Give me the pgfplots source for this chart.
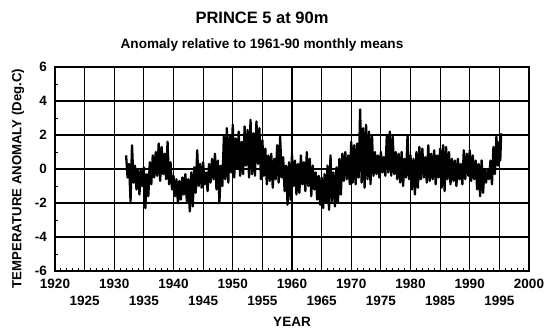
\documentclass[border=0pt]{standalone}
\usepackage{fontspec}
\setmainfont{Liberation Sans}
\usepackage{pgfplots}
\pgfplotsset{compat=1.18}
\begin{document}
\begin{tikzpicture}
\begin{axis}[
  name=ax,
  scale only axis,
  width=474pt, height=204pt,
  xmin=1920, xmax=2000, ymin=-6, ymax=6,
  xtick={1920,1930,1940,1950,1960,1970,1980,1990,2000},
  xticklabels={1920,1930,1940,1950,1960,1970,1980,1990,2000},
  extra x ticks={1925,1935,1945,1955,1965,1975,1985,1995},
  extra x tick labels={1925,1935,1945,1955,1965,1975,1985,1995},
  extra x tick style={grid=major, xticklabel style={yshift=-17pt}},
  ytick={-6,-4,-2,0,2,4,6},
  yticklabels={-6,-4,-2,0,2,4,6},
  minor x tick num=9,
  minor y tick num=1,
  tick pos=left,
  tick align=inside,
  major tick length=0pt,
  minor tick length=3.5pt,
  minor tick style={black, line width=0.9pt},
  grid=major,
  grid style={black, line width=1.1pt},
  axis line style={black, line width=1.6pt},
  xticklabel style={font=\fontsize{13.5}{14}\selectfont\bfseries, anchor=center, yshift=-13pt, inner sep=0pt},
  yticklabel style={font=\fontsize{13.5}{14}\selectfont\bfseries, anchor=east, xshift=-8pt, inner sep=0pt},
  clip=true,
]
\addplot[black, line width=2.3pt, line join=round] coordinates {
(1932.0,0.8)(1932.25,-0.5)(1932.5,0.3)(1932.75,-1.9)
(1933.0,1.4)(1933.25,-0.8)(1933.5,0.2)(1933.75,-1.2)
(1934.0,0.0)(1934.25,-1.5)(1934.5,-0.1)(1934.75,-1.0)
(1935.0,0.1)(1935.25,-2.3)(1935.5,-0.3)(1935.75,-1.6)
(1936.0,0.4)(1936.25,-0.9)(1936.5,0.8)(1936.75,-0.5)
(1937.0,1.0)(1937.25,-0.4)(1937.5,1.5)(1937.75,-0.7)
(1938.0,1.3)(1938.25,-0.3)(1938.5,0.9)(1938.75,-0.6)
(1939.0,1.6)(1939.25,-0.9)(1939.5,0.4)(1939.75,-1.2)
(1940.0,-0.4)(1940.25,-1.6)(1940.5,-0.6)(1940.75,-2.0)
(1941.0,-0.7)(1941.25,-1.8)(1941.5,-0.5)(1941.75,-1.5)
(1942.0,-0.3)(1942.25,-1.9)(1942.5,-0.6)(1942.75,-2.5)
(1943.0,-0.2)(1943.25,-2.2)(1943.5,0.1)(1943.75,-1.4)
(1944.0,1.1)(1944.25,-1.0)(1944.5,0.3)(1944.75,-1.1)
(1945.0,0.4)(1945.25,-0.9)(1945.5,-0.2)(1945.75,-1.3)
(1946.0,0.3)(1946.25,-0.8)(1946.5,0.6)(1946.75,-0.6)
(1947.0,0.9)(1947.25,-1.2)(1947.5,0.5)(1947.75,-2.0)
(1948.0,0.2)(1948.25,-1.0)(1948.5,1.9)(1948.75,-0.6)
(1949.0,2.4)(1949.25,-0.8)(1949.5,2.0)(1949.75,-0.2)
(1950.0,2.6)(1950.25,-0.5)(1950.5,1.8)(1950.75,0.0)
(1951.0,2.2)(1951.25,-0.4)(1951.5,1.6)(1951.75,-0.3)
(1952.0,2.5)(1952.25,0.2)(1952.5,2.3)(1952.75,-0.5)
(1953.0,2.9)(1953.25,-0.3)(1953.5,2.1)(1953.75,-0.4)
(1954.0,2.8)(1954.25,0.3)(1954.5,2.4)(1954.75,-0.6)
(1955.0,1.7)(1955.25,-0.4)(1955.5,1.2)(1955.75,-0.9)
(1956.0,0.8)(1956.25,-0.7)(1956.5,0.9)(1956.75,-1.1)
(1957.0,0.6)(1957.25,-0.6)(1957.5,1.4)(1957.75,-0.8)
(1958.0,1.9)(1958.25,-0.5)(1958.5,0.7)(1958.75,-1.3)
(1959.0,0.2)(1959.25,-2.1)(1959.5,0.4)(1959.75,-1.8)
(1960.0,0.9)(1960.25,-1.0)(1960.5,0.5)(1960.75,-1.5)
(1961.0,0.3)(1961.25,-1.4)(1961.5,0.8)(1961.75,-0.9)
(1962.0,0.4)(1962.25,-1.3)(1962.5,1.0)(1962.75,-1.0)
(1963.0,0.6)(1963.25,-1.6)(1963.5,0.2)(1963.75,-1.2)
(1964.0,-0.2)(1964.25,-1.8)(1964.5,-0.4)(1964.75,-2.1)
(1965.0,-0.5)(1965.25,-2.3)(1965.5,-0.3)(1965.75,-2.0)
(1966.0,0.2)(1966.25,-2.4)(1966.5,0.8)(1966.75,-1.9)
(1967.0,-0.2)(1967.25,-2.2)(1967.5,0.1)(1967.75,-2.0)
(1968.0,0.6)(1968.25,-1.5)(1968.5,0.9)(1968.75,-0.7)
(1969.0,1.0)(1969.25,-0.6)(1969.5,0.8)(1969.75,-0.9)
(1970.0,1.6)(1970.25,-0.8)(1970.5,1.4)(1970.75,-0.9)
(1971.0,1.5)(1971.25,-0.5)(1971.5,3.5)(1971.75,-0.8)
(1972.0,2.4)(1972.25,-1.1)(1972.5,2.6)(1972.75,-0.6)
(1973.0,2.2)(1973.25,-0.9)(1973.5,2.0)(1973.75,-0.4)
(1974.0,1.0)(1974.25,-0.3)(1974.5,0.8)(1974.75,-0.5)
(1975.0,1.0)(1975.25,-0.2)(1975.5,0.7)(1975.75,-0.4)
(1976.0,2.0)(1976.25,-0.2)(1976.5,2.2)(1976.75,-0.4)
(1977.0,1.9)(1977.25,-0.3)(1977.5,1.0)(1977.75,-0.6)
(1978.0,0.9)(1978.25,-0.8)(1978.5,1.0)(1978.75,-1.0)
(1979.0,0.6)(1979.25,-0.5)(1979.5,2.0)(1979.75,-0.6)
(1980.0,0.8)(1980.25,-1.2)(1980.5,0.6)(1980.75,-1.5)
(1981.0,1.0)(1981.25,-1.1)(1981.5,1.3)(1981.75,-0.6)
(1982.0,1.2)(1982.25,-0.5)(1982.5,0.7)(1982.75,-0.8)
(1983.0,1.4)(1983.25,-0.7)(1983.5,0.9)(1983.75,-0.6)
(1984.0,1.1)(1984.25,-0.9)(1984.5,0.8)(1984.75,-0.5)
(1985.0,1.2)(1985.25,-1.1)(1985.5,1.4)(1985.75,-1.3)
(1986.0,1.3)(1986.25,-0.6)(1986.5,1.0)(1986.75,-0.9)
(1987.0,0.6)(1987.25,-0.7)(1987.5,0.5)(1987.75,-1.0)
(1988.0,0.6)(1988.25,-0.6)(1988.5,0.3)(1988.75,-0.9)
(1989.0,1.1)(1989.25,-0.6)(1989.5,0.9)(1989.75,-0.4)
(1990.0,1.1)(1990.25,-0.7)(1990.5,0.8)(1990.75,-0.6)
(1991.0,0.5)(1991.25,-1.2)(1991.5,0.3)(1991.75,-1.6)
(1992.0,0.5)(1992.25,-1.4)(1992.5,0.0)(1992.75,-0.8)
(1993.0,-0.1)(1993.25,-0.6)(1993.5,0.5)(1993.75,-0.9)
(1994.0,1.3)(1994.25,-0.3)(1994.5,1.9)(1994.75,0.2)
(1995.0,1.6)(1995.15,0.5)(1995.3,2.1)
};
\end{axis}
\node[font=\fontsize{16.5}{18}\selectfont\bfseries] at ([xshift=207pt,yshift=49pt]ax.north west) {PRINCE 5 at 90m};
\node[font=\fontsize{13.6}{15}\selectfont\bfseries] at ([xshift=207pt,yshift=22pt]ax.north west) {Anomaly relative to 1961-90 monthly means};
\node[font=\fontsize{13.5}{15}\selectfont\bfseries] at ([yshift=-51pt]ax.south) {YEAR};
\node[font=\fontsize{13.2}{15}\selectfont\bfseries, rotate=90] at ([xshift=-37pt,yshift=-9.5pt]ax.west) {TEMPERATURE ANOMALY (Deg.C)};
\pgfresetboundingbox
\useasboundingbox ([xshift=-55pt,yshift=-62pt]ax.south west) rectangle ++(544pt,333pt);
\end{tikzpicture}
\end{document}
